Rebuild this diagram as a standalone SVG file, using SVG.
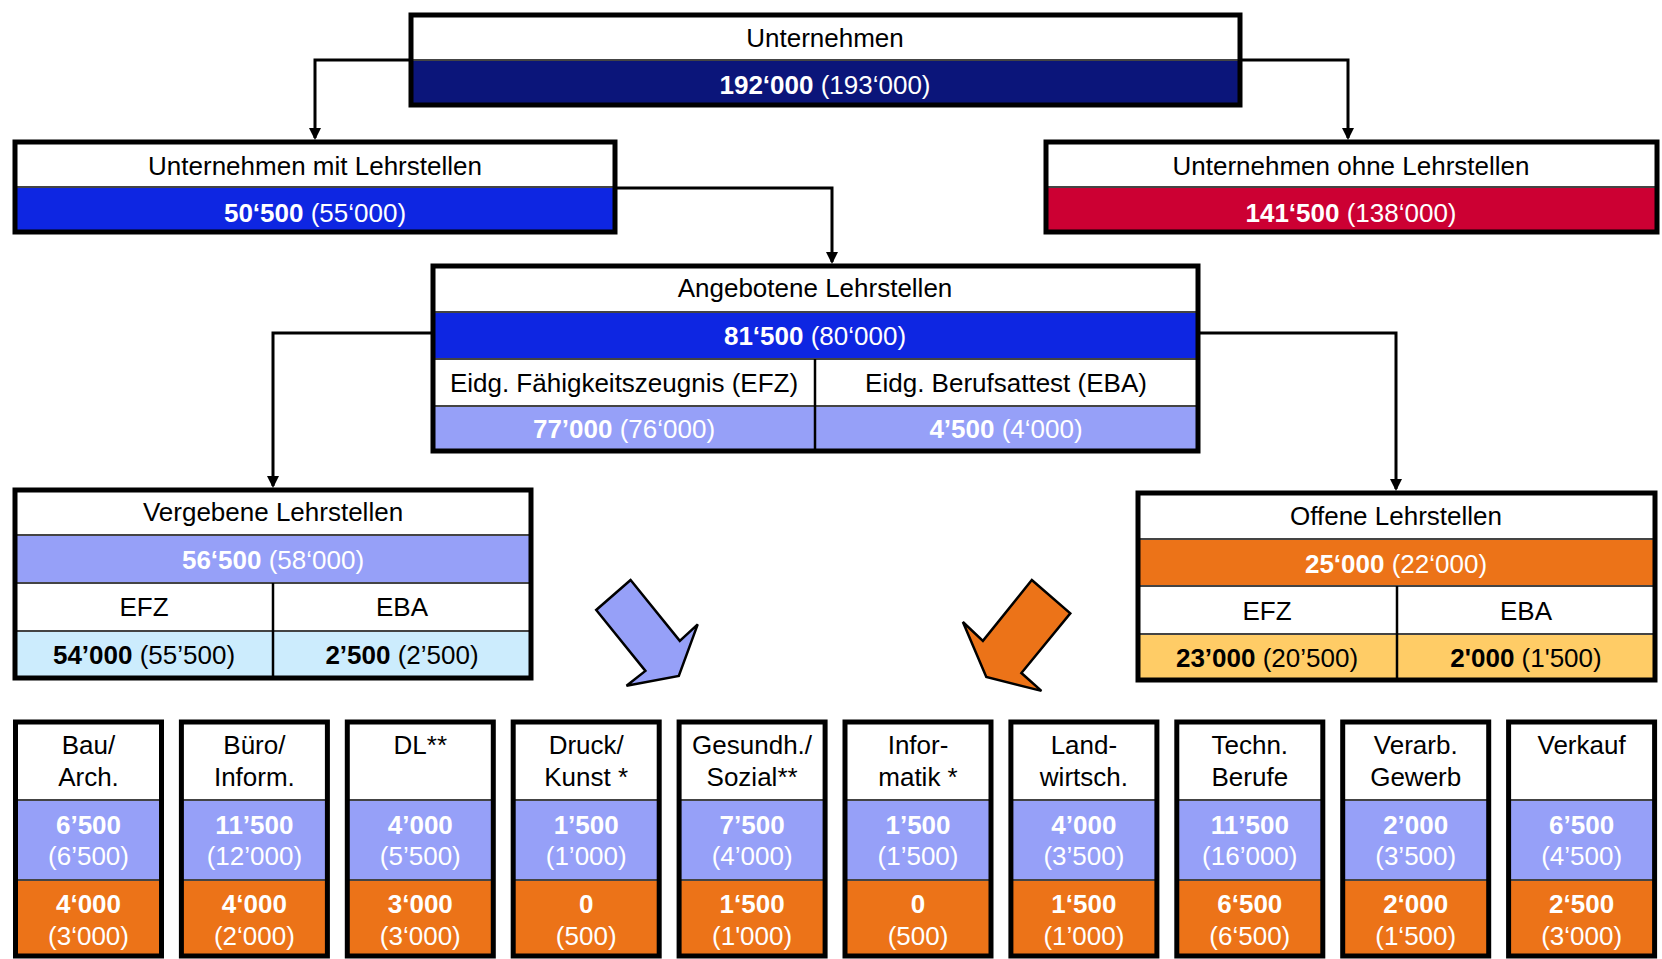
<svg xmlns="http://www.w3.org/2000/svg" width="1662" height="959" viewBox="0 0 1662 959">
<style>
text{font-family:"Liberation Sans",Arial,sans-serif;font-size:26px;text-anchor:middle}
.w{fill:#fff}.k{fill:#000}
.b{font-weight:bold}
.frame{fill:none;stroke:#000;stroke-width:5}
.div{stroke:#444;stroke-width:2}
.spl{stroke:#000;stroke-width:2.5}
.con{fill:none;stroke:#000;stroke-width:3}
.navy{fill:#0B157A}.blue{fill:#0E26E2}.red{fill:#CC0033}.lav{fill:#96A0F8}
.lblue{fill:#CCECFD}.org{fill:#EC7318}.lorg{fill:#FFCC66}.wh{fill:#fff}
</style>
<defs>
<marker id="ah" markerWidth="12" markerHeight="12" refX="10" refY="6" orient="auto" markerUnits="userSpaceOnUse">
<path d="M0,0 L12,6 L0,12 Z" fill="#000"/>
</marker>
</defs>
<rect width="1662" height="959" fill="#fff"/>

<g id="connectors">
<path class="con" d="M409,60 H315 V138" marker-end="url(#ah)"/>
<path class="con" d="M1242,60 H1348 V138" marker-end="url(#ah)"/>
<path class="con" d="M617,188 H832 V262" marker-end="url(#ah)"/>
<path class="con" d="M431,333 H273 V486" marker-end="url(#ah)"/>
<path class="con" d="M1200,333 H1396 V489" marker-end="url(#ah)"/>
</g>

<g id="unternehmen">
<rect class="wh" x="411" y="15" width="829" height="45"/>
<rect class="navy" x="411" y="60" width="829" height="45"/>
<line class="div" x1="411" y1="60" x2="1240" y2="60"/>
<rect class="frame" x="411" y="15" width="829" height="90"/>
<text x="825" y="47" class="k">Unternehmen</text>
<text x="825" y="94" class="w"><tspan class="b">192‘000</tspan> (193‘000)</text>
</g>

<g id="mit">
<rect class="wh" x="15" y="142" width="600" height="45"/>
<rect class="blue" x="15" y="187" width="600" height="45"/>
<line class="div" x1="15" y1="187" x2="615" y2="187"/>
<rect class="frame" x="15" y="142" width="600" height="90"/>
<text x="315" y="175" class="k">Unternehmen mit Lehrstellen</text>
<text x="315" y="222" class="w"><tspan class="b">50‘500</tspan> (55‘000)</text>
</g>

<g id="ohne">
<rect class="wh" x="1046" y="142" width="611" height="45"/>
<rect class="red" x="1046" y="187" width="611" height="45"/>
<line class="div" x1="1046" y1="187" x2="1657" y2="187"/>
<rect class="frame" x="1046" y="142" width="611" height="90"/>
<text x="1351" y="175" class="k">Unternehmen ohne Lehrstellen</text>
<text x="1351" y="222" class="w"><tspan class="b">141‘500</tspan> (138‘000)</text>
</g>

<g id="angebotene">
<rect class="wh" x="433" y="266" width="765" height="46"/>
<rect class="blue" x="433" y="312" width="765" height="47"/>
<rect class="wh" x="433" y="359" width="765" height="47"/>
<rect class="lav" x="433" y="406" width="765" height="45"/>
<line class="div" x1="433" y1="312" x2="1198" y2="312"/>
<line class="div" x1="433" y1="359" x2="1198" y2="359"/>
<line class="div" x1="433" y1="406" x2="1198" y2="406"/>
<line class="spl" x1="815" y1="359" x2="815" y2="451"/>
<rect class="frame" x="433" y="266" width="765" height="185"/>
<text x="815" y="297" class="k">Angebotene Lehrstellen</text>
<text x="815" y="345" class="w"><tspan class="b">81‘500</tspan> (80‘000)</text>
<text x="624" y="392" class="k">Eidg. Fähigkeitszeugnis (EFZ)</text>
<text x="1006" y="392" class="k">Eidg. Berufsattest (EBA)</text>
<text x="624" y="438" class="w"><tspan class="b">77’000</tspan> (76‘000)</text>
<text x="1006" y="438" class="w"><tspan class="b">4’500</tspan> (4‘000)</text>
</g>

<g id="vergebene">
<rect class="wh" x="15" y="490" width="516" height="45"/>
<rect class="lav" x="15" y="535" width="516" height="48"/>
<rect class="wh" x="15" y="583" width="516" height="48"/>
<rect class="lblue" x="15" y="631" width="516" height="47"/>
<line class="div" x1="15" y1="535" x2="531" y2="535"/>
<line class="div" x1="15" y1="583" x2="531" y2="583"/>
<line class="div" x1="15" y1="631" x2="531" y2="631"/>
<line class="spl" x1="273" y1="583" x2="273" y2="678"/>
<rect class="frame" x="15" y="490" width="516" height="188"/>
<text x="273" y="521" class="k">Vergebene Lehrstellen</text>
<text x="273" y="569" class="w"><tspan class="b">56‘500</tspan> (58‘000)</text>
<text x="144" y="616" class="k">EFZ</text>
<text x="402" y="616" class="k">EBA</text>
<text x="144" y="664" class="k"><tspan class="b">54’000</tspan> (55’500)</text>
<text x="402" y="664" class="k"><tspan class="b">2’500</tspan> (2’500)</text>
</g>

<g id="offene">
<rect class="wh" x="1138" y="493" width="517" height="46"/>
<rect class="org" x="1138" y="539" width="517" height="47"/>
<rect class="wh" x="1138" y="586" width="517" height="48"/>
<rect class="lorg" x="1138" y="634" width="517" height="46"/>
<line class="div" x1="1138" y1="539" x2="1655" y2="539"/>
<line class="div" x1="1138" y1="586" x2="1655" y2="586"/>
<line class="div" x1="1138" y1="634" x2="1655" y2="634"/>
<line class="spl" x1="1397" y1="586" x2="1397" y2="680"/>
<rect class="frame" x="1138" y="493" width="517" height="187"/>
<text x="1396" y="525" class="k">Offene Lehrstellen</text>
<text x="1396" y="573" class="w"><tspan class="b">25‘000</tspan> (22‘000)</text>
<text x="1267" y="620" class="k">EFZ</text>
<text x="1526" y="620" class="k">EBA</text>
<text x="1267" y="667" class="k"><tspan class="b">23’000</tspan> (20’500)</text>
<text x="1526" y="667" class="k"><tspan class="b">2'000</tspan> (1'500)</text>
</g>

<g id="arrow-blue">
<polygon points="630.6,580 596.2,610 645.4,670.9 626.5,685.7 678.8,676 697.7,624.4 679.8,640.9" fill="#96A0F8" stroke="#000" stroke-width="2.5" stroke-linejoin="miter"/>
</g>
<g id="arrow-orange">
<polygon points="1031.8,580 1070.3,613.4 1021.4,673 1041.4,690.9 986.3,677 962.9,622 982.9,640.9" fill="#EC7318" stroke="#000" stroke-width="2.5"/>
</g>

<g id="col-bau" transform="translate(15.5,0)">
<rect class="wh" x="0" y="722" width="146" height="78"/><rect class="lav" x="0" y="800" width="146" height="80"/><rect class="org" x="0" y="880" width="146" height="77"/>
<line class="div" x1="0" y1="800" x2="146" y2="800"/><line class="div" x1="0" y1="880" x2="146" y2="880"/>
<rect class="frame" x="0" y="722" width="146" height="234"/>
<text x="73" y="754" class="k">Bau/</text><text x="73" y="786" class="k">Arch.</text>
<text x="73" y="834" class="w b">6’500</text><text x="73" y="865" class="w">(6’500)</text>
<text x="73" y="913" class="w b">4‘000</text><text x="73" y="945" class="w">(3‘000)</text>
</g>
<g id="col-buero" transform="translate(181.4,0)">
<rect class="wh" x="0" y="722" width="146" height="78"/><rect class="lav" x="0" y="800" width="146" height="80"/><rect class="org" x="0" y="880" width="146" height="77"/>
<line class="div" x1="0" y1="800" x2="146" y2="800"/><line class="div" x1="0" y1="880" x2="146" y2="880"/>
<rect class="frame" x="0" y="722" width="146" height="234"/>
<text x="73" y="754" class="k">Büro/</text><text x="73" y="786" class="k">Inform.</text>
<text x="73" y="834" class="w b">11’500</text><text x="73" y="865" class="w">(12’000)</text>
<text x="73" y="913" class="w b">4‘000</text><text x="73" y="945" class="w">(2‘000)</text>
</g>
<g id="col-dl" transform="translate(347.3,0)">
<rect class="wh" x="0" y="722" width="146" height="78"/><rect class="lav" x="0" y="800" width="146" height="80"/><rect class="org" x="0" y="880" width="146" height="77"/>
<line class="div" x1="0" y1="800" x2="146" y2="800"/><line class="div" x1="0" y1="880" x2="146" y2="880"/>
<rect class="frame" x="0" y="722" width="146" height="234"/>
<text x="73" y="754" class="k">DL**</text>
<text x="73" y="834" class="w b">4’000</text><text x="73" y="865" class="w">(5’500)</text>
<text x="73" y="913" class="w b">3‘000</text><text x="73" y="945" class="w">(3‘000)</text>
</g>
<g id="col-druck" transform="translate(513.2,0)">
<rect class="wh" x="0" y="722" width="146" height="78"/><rect class="lav" x="0" y="800" width="146" height="80"/><rect class="org" x="0" y="880" width="146" height="77"/>
<line class="div" x1="0" y1="800" x2="146" y2="800"/><line class="div" x1="0" y1="880" x2="146" y2="880"/>
<rect class="frame" x="0" y="722" width="146" height="234"/>
<text x="73" y="754" class="k">Druck/</text><text x="73" y="786" class="k">Kunst *</text>
<text x="73" y="834" class="w b">1’500</text><text x="73" y="865" class="w">(1’000)</text>
<text x="73" y="913" class="w b">0</text><text x="73" y="945" class="w">(500)</text>
</g>
<g id="col-gesundh" transform="translate(679.1,0)">
<rect class="wh" x="0" y="722" width="146" height="78"/><rect class="lav" x="0" y="800" width="146" height="80"/><rect class="org" x="0" y="880" width="146" height="77"/>
<line class="div" x1="0" y1="800" x2="146" y2="800"/><line class="div" x1="0" y1="880" x2="146" y2="880"/>
<rect class="frame" x="0" y="722" width="146" height="234"/>
<text x="73" y="754" class="k">Gesundh./</text><text x="73" y="786" class="k">Sozial**</text>
<text x="73" y="834" class="w b">7’500</text><text x="73" y="865" class="w">(4’000)</text>
<text x="73" y="913" class="w b">1‘500</text><text x="73" y="945" class="w">(1'000)</text>
</g>
<g id="col-informatik" transform="translate(845,0)">
<rect class="wh" x="0" y="722" width="146" height="78"/><rect class="lav" x="0" y="800" width="146" height="80"/><rect class="org" x="0" y="880" width="146" height="77"/>
<line class="div" x1="0" y1="800" x2="146" y2="800"/><line class="div" x1="0" y1="880" x2="146" y2="880"/>
<rect class="frame" x="0" y="722" width="146" height="234"/>
<text x="73" y="754" class="k">Infor-</text><text x="73" y="786" class="k">matik *</text>
<text x="73" y="834" class="w b">1’500</text><text x="73" y="865" class="w">(1’500)</text>
<text x="73" y="913" class="w b">0</text><text x="73" y="945" class="w">(500)</text>
</g>
<g id="col-landw" transform="translate(1010.9,0)">
<rect class="wh" x="0" y="722" width="146" height="78"/><rect class="lav" x="0" y="800" width="146" height="80"/><rect class="org" x="0" y="880" width="146" height="77"/>
<line class="div" x1="0" y1="800" x2="146" y2="800"/><line class="div" x1="0" y1="880" x2="146" y2="880"/>
<rect class="frame" x="0" y="722" width="146" height="234"/>
<text x="73" y="754" class="k">Land-</text><text x="73" y="786" class="k">wirtsch.</text>
<text x="73" y="834" class="w b">4’000</text><text x="73" y="865" class="w">(3’500)</text>
<text x="73" y="913" class="w b">1‘500</text><text x="73" y="945" class="w">(1’000)</text>
</g>
<g id="col-techn" transform="translate(1176.8,0)">
<rect class="wh" x="0" y="722" width="146" height="78"/><rect class="lav" x="0" y="800" width="146" height="80"/><rect class="org" x="0" y="880" width="146" height="77"/>
<line class="div" x1="0" y1="800" x2="146" y2="800"/><line class="div" x1="0" y1="880" x2="146" y2="880"/>
<rect class="frame" x="0" y="722" width="146" height="234"/>
<text x="73" y="754" class="k">Techn.</text><text x="73" y="786" class="k">Berufe</text>
<text x="73" y="834" class="w b">11’500</text><text x="73" y="865" class="w">(16’000)</text>
<text x="73" y="913" class="w b">6‘500</text><text x="73" y="945" class="w">(6‘500)</text>
</g>
<g id="col-verarb" transform="translate(1342.7,0)">
<rect class="wh" x="0" y="722" width="146" height="78"/><rect class="lav" x="0" y="800" width="146" height="80"/><rect class="org" x="0" y="880" width="146" height="77"/>
<line class="div" x1="0" y1="800" x2="146" y2="800"/><line class="div" x1="0" y1="880" x2="146" y2="880"/>
<rect class="frame" x="0" y="722" width="146" height="234"/>
<text x="73" y="754" class="k">Verarb.</text><text x="73" y="786" class="k">Gewerb</text>
<text x="73" y="834" class="w b">2’000</text><text x="73" y="865" class="w">(3’500)</text>
<text x="73" y="913" class="w b">2‘000</text><text x="73" y="945" class="w">(1‘500)</text>
</g>
<g id="col-verkauf" transform="translate(1508.6,0)">
<rect class="wh" x="0" y="722" width="146" height="78"/><rect class="lav" x="0" y="800" width="146" height="80"/><rect class="org" x="0" y="880" width="146" height="77"/>
<line class="div" x1="0" y1="800" x2="146" y2="800"/><line class="div" x1="0" y1="880" x2="146" y2="880"/>
<rect class="frame" x="0" y="722" width="146" height="234"/>
<text x="73" y="754" class="k">Verkauf</text>
<text x="73" y="834" class="w b">6’500</text><text x="73" y="865" class="w">(4’500)</text>
<text x="73" y="913" class="w b">2‘500</text><text x="73" y="945" class="w">(3‘000)</text>
</g>
</svg>
